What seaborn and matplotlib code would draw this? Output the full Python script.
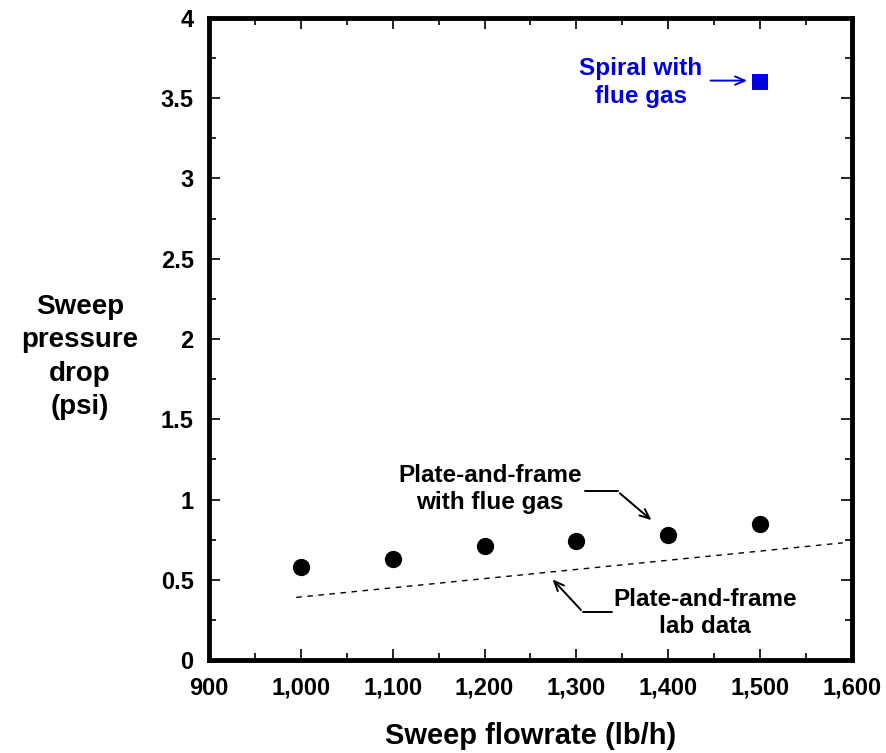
import matplotlib
matplotlib.use('Agg')
import matplotlib.pyplot as plt
import matplotlib.ticker as mticker
import seaborn as sns
import pandas as pd

# --- data ---
flow = [1000, 1100, 1200, 1300, 1400, 1500]
dp_plate_flue = [0.58, 0.63, 0.71, 0.74, 0.78, 0.85]
lab_flow = [995, 1590]
dp_plate_lab = [0.39, 0.73]
spiral_flow = [1500]
dp_spiral = [3.6]

x_ticks = [900, 1000, 1100, 1200, 1300, 1400, 1500, 1600]
y_ticks = [0, 0.5, 1, 1.5, 2, 2.5, 3, 3.5, 4]

BLUE = '#0000dd'

sns.set_style('ticks', {'axes.edgecolor': 'black', 'text.color': 'black',
                        'xtick.color': 'black', 'ytick.color': 'black',
                        'axes.labelcolor': 'black'})
plt.rcParams['font.family'] = ['Liberation Sans', 'DejaVu Sans']
plt.rcParams['font.weight'] = 'bold'

fig = plt.figure(figsize=(8.87, 7.53), dpi=100)
ax = fig.add_axes([0.2356, 0.1235, 0.7249, 0.8526])

df_pf = pd.DataFrame({'flow': flow, 'dp': dp_plate_flue})
df_lab = pd.DataFrame({'flow': lab_flow, 'dp': dp_plate_lab})
df_sp = pd.DataFrame({'flow': spiral_flow, 'dp': dp_spiral})

sns.lineplot(data=df_lab, x='flow', y='dp', ax=ax, color='black', lw=1.0,
             linestyle=(0, (4, 4)))
sns.scatterplot(data=df_pf, x='flow', y='dp', ax=ax, color='black', s=155,
                marker='o', linewidth=0)
sns.scatterplot(data=df_sp, x='flow', y='dp', ax=ax, color=BLUE, s=140,
                marker='s', linewidth=0)

ax.set_xlim(900, 1600)
ax.set_ylim(0, 4)
ax.set_xticks(x_ticks)
ax.set_yticks(y_ticks)
ax.xaxis.set_minor_locator(mticker.MultipleLocator(50))
ax.yaxis.set_minor_locator(mticker.MultipleLocator(0.25))
ax.xaxis.set_major_formatter(mticker.FuncFormatter(lambda v, p: f'{v:,.0f}'))
ax.yaxis.set_major_formatter(mticker.FuncFormatter(lambda v, p: f'{v:g}'))
ax.tick_params(which='both', direction='in', top=True, right=True, width=1.2, colors='black')
ax.tick_params(which='major', length=8, labelsize=17)
ax.tick_params(which='minor', length=5)
ax.tick_params(axis='x', which='major', pad=12)
ax.tick_params(axis='y', which='major', pad=11)
for lab in ax.get_xticklabels() + ax.get_yticklabels():
    lab.set_fontweight('bold')
for sp in ax.spines.values():
    sp.set_linewidth(3.5)
    sp.set_color('black')

ax.set_xlabel('Sweep flowrate (lb/h)', fontsize=21, fontweight='bold', labelpad=16)
ax.set_ylabel('')
fig.text(80 / 887, 1 - 357 / 753, 'Sweep\npressure\ndrop\n(psi)', ha='center', va='center',
         fontsize=20, fontweight='bold', linespacing=1.36)

# annotations
arrow_kw = dict(arrowstyle='->,head_length=0.7,head_width=0.3', lw=1.4)
ax.text(1370, 3.6, 'Spiral with\nflue gas', color=BLUE, ha='center', va='center',
        fontsize=17.5, fontweight='bold', linespacing=1.27)
ax.annotate('', xy=(1489, 3.61), xytext=(1443, 3.61),
            arrowprops=dict(color=BLUE, **arrow_kw))

ax.text(1206, 1.065, 'Plate-and-frame\nwith flue gas', ha='center', va='center',
        fontsize=17.5, fontweight='bold', linespacing=1.27)
ax.plot([1309, 1345], [1.05, 1.05], color='black', lw=1.4)
ax.annotate('', xy=(1384, 0.86), xytext=(1345, 1.05),
            arrowprops=dict(color='black', **arrow_kw))

ax.text(1440, 0.293, 'Plate-and-frame\nlab data', ha='center', va='center',
        fontsize=17.5, fontweight='bold', linespacing=1.27)
ax.plot([1307, 1339], [0.299, 0.299], color='black', lw=1.4)
ax.annotate('', xy=(1272, 0.515), xytext=(1307, 0.299),
            arrowprops=dict(color='black', **arrow_kw))

fig.savefig('out.png', dpi=100)
